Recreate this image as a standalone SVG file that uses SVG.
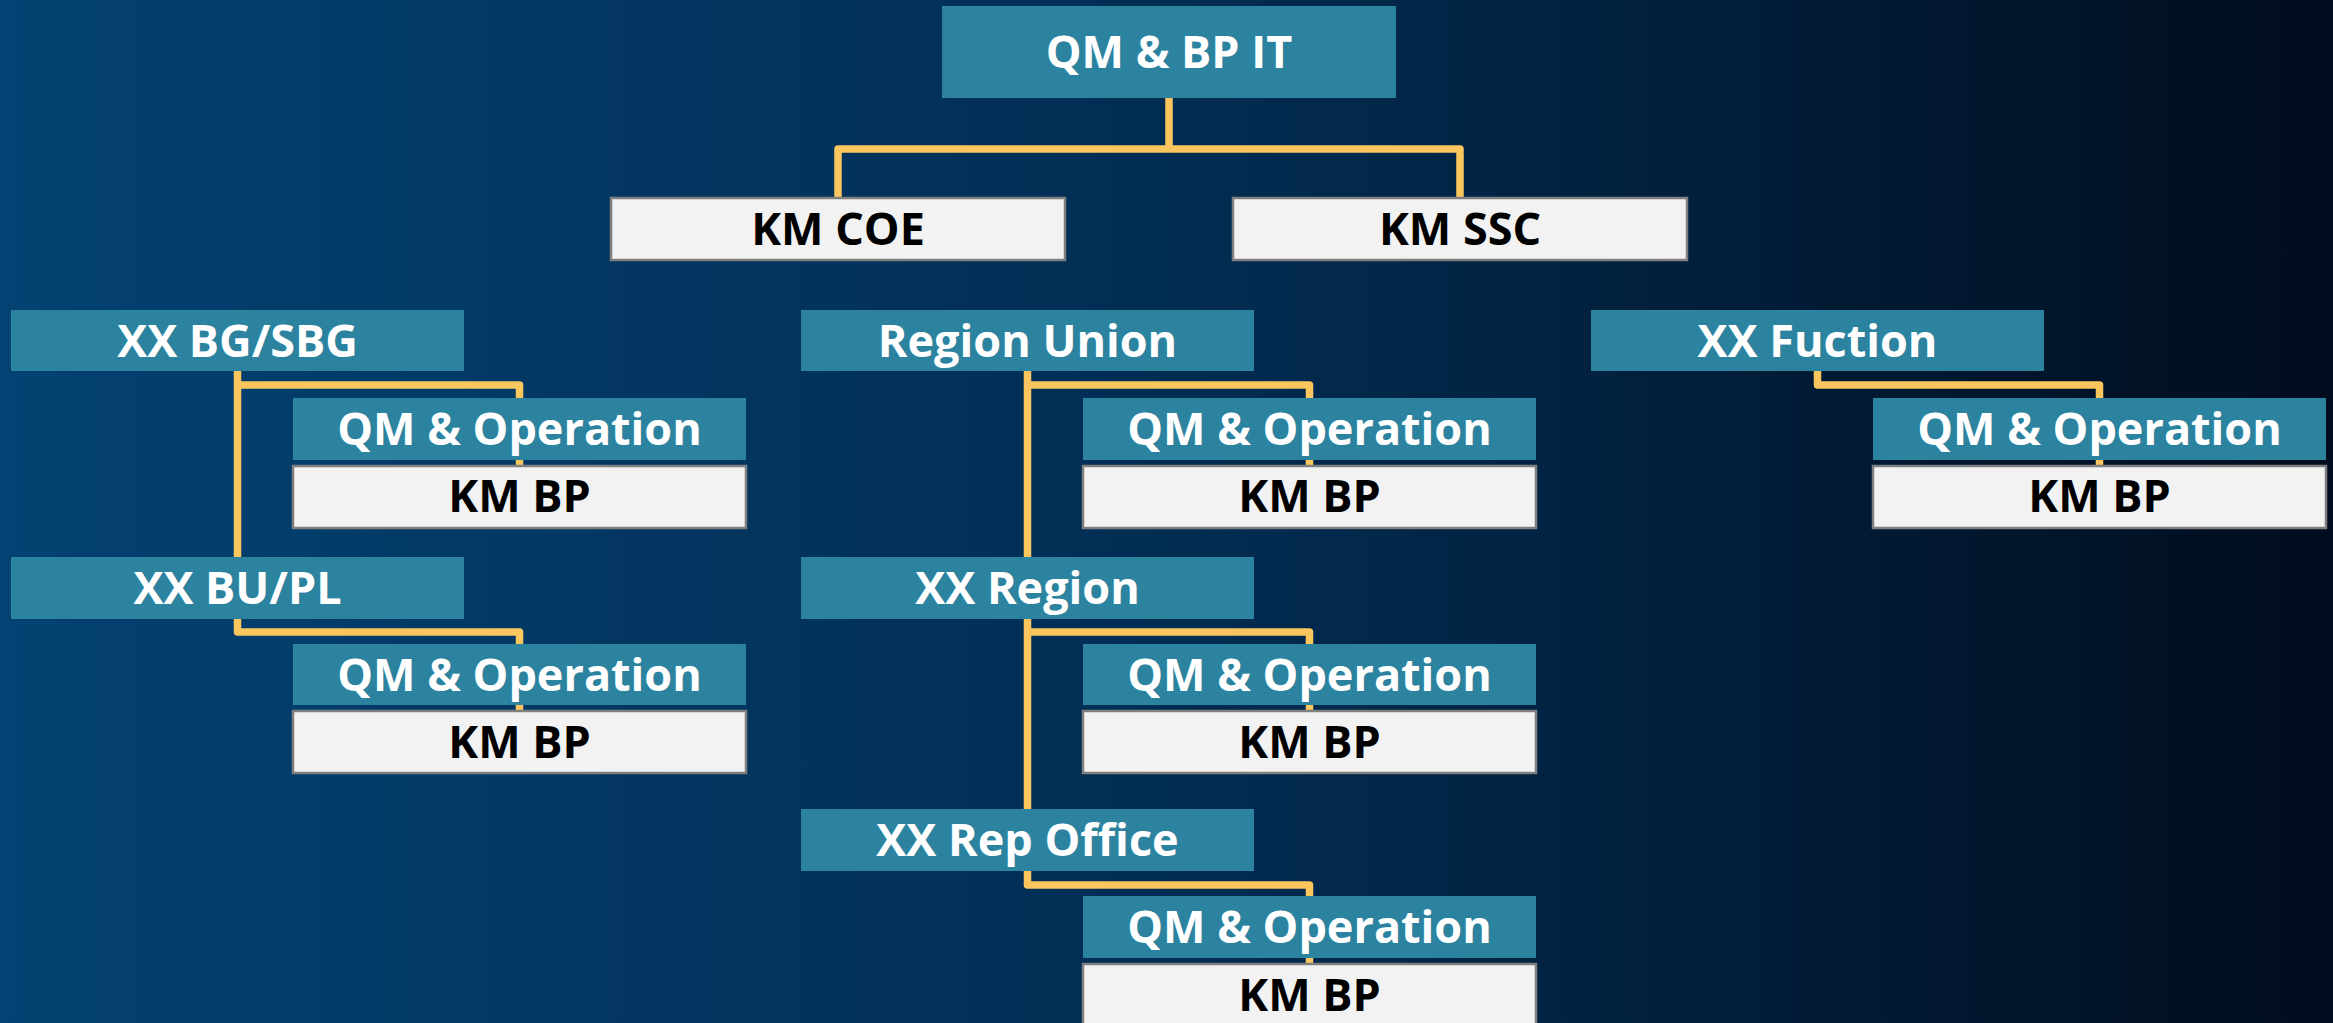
<svg xmlns="http://www.w3.org/2000/svg" width="2333" height="1023" viewBox="0 0 2333 1023">
  <defs>
    <linearGradient id="bg" x1="0" y1="0" x2="1" y2="0">
      <stop offset="0" stop-color="#034272"/>
      <stop offset="0.5" stop-color="#022d53"/>
      <stop offset="1" stop-color="#010d1e"/>
    </linearGradient>
    <style>
      .teal { fill: #2b83a0; }
      .white { fill: #f2f2f2; stroke: #7f7f7f; stroke-width: 2.5; }
      .tw { fill: #ffffff; font-family: "Open Sans", "Noto Sans", "Liberation Sans", sans-serif; font-weight: 700; font-size: 45px; text-anchor: middle; }
      .tb { fill: #000000; font-family: "Open Sans", "Noto Sans", "Liberation Sans", sans-serif; font-weight: 700; font-size: 45px; text-anchor: middle; }
      .conn { fill: none; stroke: #fcc65e; stroke-width: 7.5; stroke-linejoin: round; stroke-linecap: butt; }
    </style>
  </defs>
  <rect x="0" y="0" width="2333" height="1023" fill="url(#bg)"/>

  <g id="connectors">
    <path class="conn" d="M1169,98 V149"/>
    <path class="conn" d="M838,198 V149 H1460 V198"/>
    <path class="conn" d="M237.5,371 V557"/>
    <path class="conn" d="M237.5,385 H519.5 V466"/>
    <path class="conn" d="M237.5,619 V632 H519.5 V711"/>
    <path class="conn" d="M1027.5,371 V809"/>
    <path class="conn" d="M1027.5,385 H1309.5 V466"/>
    <path class="conn" d="M1027.5,632 H1309.5 V711"/>
    <path class="conn" d="M1027.5,871 V885 H1309.5 V964"/>
    <path class="conn" d="M1817.5,371 V385 H2099.5 V466"/>
  </g>

  <g id="qm-bp-it">
    <rect class="teal" x="942" y="6" width="454" height="92"/>
    <text class="tw" x="1169" y="68">QM &amp; BP IT</text>
  </g>
  <g id="km-coe">
    <rect class="white" x="611" y="198" width="454" height="62"/>
    <text class="tb" x="838" y="245">KM COE</text>
  </g>
  <g id="km-ssc">
    <rect class="white" x="1233" y="198" width="454" height="62"/>
    <text class="tb" x="1460" y="245">KM SSC</text>
  </g>

  <!-- Column 1 -->
  <g id="xx-bg-sbg">
    <rect class="teal" x="11" y="310" width="453" height="61"/>
    <text class="tw" x="237.5" y="357">XX BG/SBG</text>
  </g>
  <g id="qm-op-1">
    <rect class="teal" x="293" y="398" width="453" height="62"/>
    <text class="tw" x="519.5" y="445">QM &amp; Operation</text>
  </g>
  <g id="km-bp-1">
    <rect class="white" x="293" y="466" width="453" height="62"/>
    <text class="tb" x="519.5" y="512">KM BP</text>
  </g>
  <g id="xx-bu-pl">
    <rect class="teal" x="11" y="557" width="453" height="62"/>
    <text class="tw" x="237.5" y="604">XX BU/PL</text>
  </g>
  <g id="qm-op-2">
    <rect class="teal" x="293" y="644" width="453" height="61"/>
    <text class="tw" x="519.5" y="691">QM &amp; Operation</text>
  </g>
  <g id="km-bp-2">
    <rect class="white" x="293" y="711" width="453" height="62"/>
    <text class="tb" x="519.5" y="758">KM BP</text>
  </g>

  <!-- Column 2 -->
  <g id="region-union">
    <rect class="teal" x="801" y="310" width="453" height="61"/>
    <text class="tw" x="1027.5" y="357">Region Union</text>
  </g>
  <g id="qm-op-3">
    <rect class="teal" x="1083" y="398" width="453" height="62"/>
    <text class="tw" x="1309.5" y="445">QM &amp; Operation</text>
  </g>
  <g id="km-bp-3">
    <rect class="white" x="1083" y="466" width="453" height="62"/>
    <text class="tb" x="1309.5" y="512">KM BP</text>
  </g>
  <g id="xx-region">
    <rect class="teal" x="801" y="557" width="453" height="62"/>
    <text class="tw" x="1027.5" y="604">XX Region</text>
  </g>
  <g id="qm-op-4">
    <rect class="teal" x="1083" y="644" width="453" height="61"/>
    <text class="tw" x="1309.5" y="691">QM &amp; Operation</text>
  </g>
  <g id="km-bp-4">
    <rect class="white" x="1083" y="711" width="453" height="62"/>
    <text class="tb" x="1309.5" y="758">KM BP</text>
  </g>
  <g id="xx-rep-office">
    <rect class="teal" x="801" y="809" width="453" height="62"/>
    <text class="tw" x="1027.5" y="856">XX Rep Office</text>
  </g>
  <g id="qm-op-5">
    <rect class="teal" x="1083" y="896" width="453" height="62"/>
    <text class="tw" x="1309.5" y="943">QM &amp; Operation</text>
  </g>
  <g id="km-bp-5">
    <rect class="white" x="1083" y="964" width="453" height="64"/>
    <text class="tb" x="1309.5" y="1011">KM BP</text>
  </g>

  <!-- Column 3 -->
  <g id="xx-fuction">
    <rect class="teal" x="1591" y="310" width="453" height="61"/>
    <text class="tw" x="1817.5" y="357">XX Fuction</text>
  </g>
  <g id="qm-op-6">
    <rect class="teal" x="1873" y="398" width="453" height="62"/>
    <text class="tw" x="2099.5" y="445">QM &amp; Operation</text>
  </g>
  <g id="km-bp-6">
    <rect class="white" x="1873" y="466" width="453" height="62"/>
    <text class="tb" x="2099.5" y="512">KM BP</text>
  </g>
</svg>
